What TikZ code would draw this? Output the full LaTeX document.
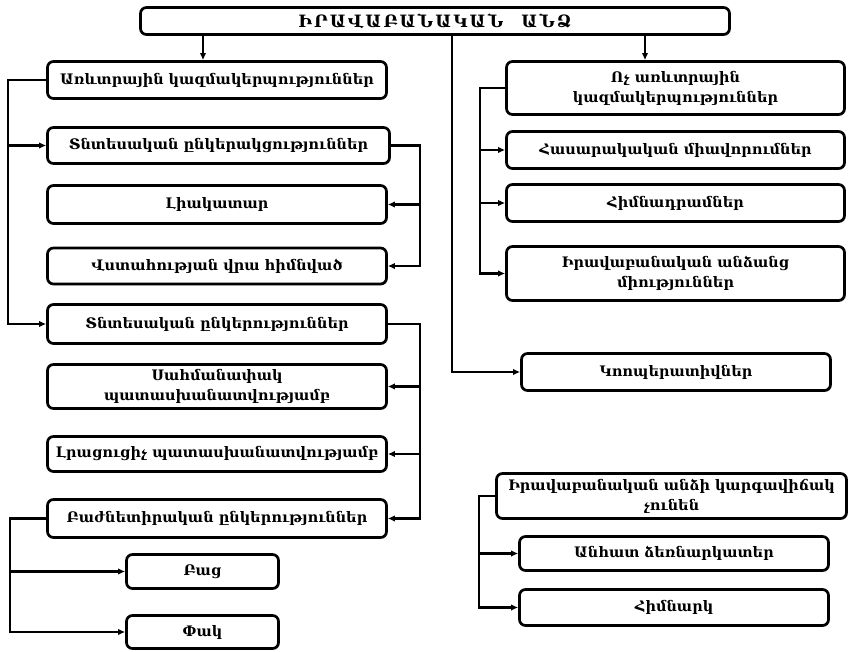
\documentclass[tikz,border=0pt]{standalone}
\usepackage{fontspec}
\newfontfamily\armfont{DejaVu Serif}
\newfontfamily\armtitle[LetterSpace=12]{DejaVu Serif}
\usetikzlibrary{arrows.meta,shadows}
\begin{document}
\begin{tikzpicture}[x=1pt,y=-1pt,
  box/.style={draw=black, line width=2.7pt, rounded corners=6pt, fill=white,
    align=center, inner sep=1pt,
    font=\armfont\bfseries\fontsize{14.5}{20}\selectfont,
    drop shadow={shadow xshift=1.3pt, shadow yshift=-1.3pt, opacity=0.3}},
  link/.style={line width=2.6pt, draw=black},
  arr/.style={link, -{Latex[length=7pt,width=6.5pt]}},
]
\useasboundingbox (0,0) rectangle (849,652);

% heading
\node[box, minimum width=589pt, minimum height=27pt,
  font=\armtitle\bfseries\fontsize{17}{19}\selectfont] (title) at (435,21)
  {ԻՐԱՎԱԲԱՆԱԿԱՆ\hspace{18pt}ԱՆՁ};

% commercial branch
\node[box, minimum width=339pt, minimum height=37pt] (b1) at (217,80) {Առևտրային կազմակերպություններ};
\node[box, minimum width=342pt, minimum height=36pt] (b2) at (218.5,145.5) {Տնտեսական ընկերակցություններ};
\node[box, minimum width=339pt, minimum height=38pt] (b3) at (217,204.5) {Լիակատար};
\node[box, minimum width=339pt, minimum height=36pt] (b4) at (217,266) {Վստահության վրա հիմնված};
\node[box, minimum width=339pt, minimum height=39pt] (b5) at (217,324) {Տնտեսական ընկերություններ};
\node[box, minimum width=339pt, minimum height=44pt] (b6) at (217,386.5) {Սահմանափակ\\պատասխանատվությամբ};
\node[box, minimum width=339pt, minimum height=35pt] (b7) at (217,454) {Լրացուցիչ պատասխանատվությամբ};
\node[box, minimum width=339pt, minimum height=38pt] (b8) at (217,518.5) {Բաժնետիրական ընկերություններ};
\node[box, minimum width=152pt, minimum height=34pt] (bac) at (202.5,571.5) {Բաց};
\node[box, minimum width=152pt, minimum height=33pt] (pak) at (202.5,632) {Փակ};

% non-commercial branch
\node[box, minimum width=338pt, minimum height=53pt] (b11) at (675.5,88) {Ոչ առևտրային\\կազմակերպություններ};
\node[box, minimum width=338pt, minimum height=37pt] (b12) at (675.5,150) {Հասարակական միավորումներ};
\node[box, minimum width=338pt, minimum height=37pt] (b13) at (675.5,203) {Հիմնադրամներ};
\node[box, minimum width=338pt, minimum height=54pt] (b14) at (675.5,273.5) {Իրավաբանական անձանց\\միություններ};
\node[box, minimum width=309pt, minimum height=37pt] (b15) at (676,372) {Կոոպերատիվներ};

% without legal entity status
\node[box, minimum width=350pt, minimum height=45pt] (b16) at (671.5,496) {Իրավաբանական անձի կարգավիճակ\\չունեն};
\node[box, minimum width=309pt, minimum height=34pt] (b17) at (674,553.5) {Անհատ ձեռնարկատեր};
\node[box, minimum width=309pt, minimum height=36pt] (b18) at (674,607.5) {Հիմնարկ};

% spine positions
\coordinate (tl) at (203,0);
\coordinate (tm) at (452,0);
\coordinate (tr) at (645,0);
\coordinate (ls) at (8,0);
\coordinate (rb) at (420,0);
\coordinate (bs) at (10,0);
\coordinate (rs) at (480,0);
\coordinate (rs2) at (479,0);

% connectors from the heading
\draw[arr] (title.south -| tl) -- (b1.north -| tl);
\draw[arr] (title.south -| tr) -- (b11.north -| tr);
\draw[arr] (title.south -| tm) |- (b15.west);

% left spine
\draw[arr] (b1.west) -| (ls |- b5.west) -- (b5.west);
\draw[arr] (ls |- b2.west) -- (b2.west);

% partnerships
\draw[arr] (b2.east) -| (rb |- b4.east) -- (b4.east);
\draw[arr] (rb |- b3.east) -- (b3.east);

% companies
\draw[arr] (b5.east) -| (rb |- b8.east) -- (b8.east);
\draw[arr] (rb |- b6.east) -- (b6.east);
\draw[arr] (rb |- b7.east) -- (b7.east);

% joint-stock companies
\draw[arr] (b8.west) -| (bs |- pak.west) -- (pak.west);
\draw[arr] (bs |- bac.west) -- (bac.west);

% non-commercial organisations
\draw[arr] (b11.west) -| (rs |- b14.west) -- (b14.west);
\draw[arr] (rs |- b12.west) -- (b12.west);
\draw[arr] (rs |- b13.west) -- (b13.west);

% no legal entity status
\draw[arr] (b16.west) -| (rs2 |- b18.west) -- (b18.west);
\draw[arr] (rs2 |- b17.west) -- (b17.west);
\end{tikzpicture}
\end{document}
